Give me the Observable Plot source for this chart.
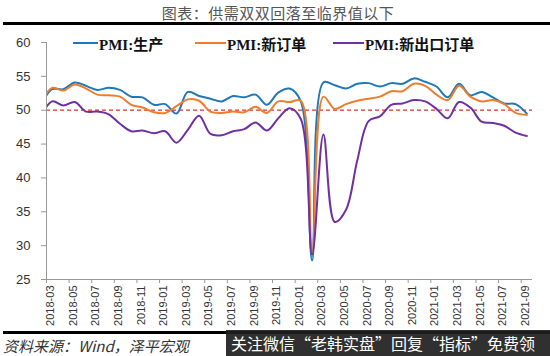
<!DOCTYPE html>
<html>
<head>
<meta charset="utf-8">
<script src="https://cdn.jsdelivr.net/npm/d3@7"></script>
<script src="https://cdn.jsdelivr.net/npm/@observablehq/plot@0.6"></script>
<style>
  body { margin:0; width:550px; height:356px; position:relative; overflow:hidden; background:#fff; }
  .abs { position:absolute; }
  #title { left:0; top:2px; width:556px; text-align:center; font:15px "Noto Sans CJK SC", sans-serif; color:#555; letter-spacing:0.5px; }
  .leg { top:34px; height:18px; display:flex; align-items:center; font:bold 15px "Liberation Serif", "Noto Sans CJK SC", serif; color:#111; white-space:nowrap; }
  .leg span.sw { display:inline-block; width:26px; height:2.5px; margin-right:1px; }
  #foot { left:3px; top:335px; font:italic 15px "Noto Sans CJK SC", sans-serif; color:#333; }
  #wm { left:226px; top:330px; width:324px; height:26px; background:rgba(30,30,30,0.92); }
  #wmt { left:231px; top:330px; color:#fff; font:16px "Noto Sans CJK SC", sans-serif; line-height:26px; white-space:nowrap; }
</style>
</head>
<body>
<div id="title" class="abs">图表：供需双双回落至临界值以下</div>
<div class="abs" style="left:3px;top:22px;width:547px;height:3px;background:#000"></div>
<div id="chart" class="abs" style="left:0;top:26px"></div>
<div id="legend"></div>
<div class="abs" style="left:3px;top:331px;width:547px;height:3px;background:#000"></div>
<div id="foot" class="abs">资料来源：Wind，泽平宏观</div>
<div id="wm" class="abs"></div>
<div id="wmt" class="abs">关注微信“老韩实盘”回复“指标”免费领</div>
<script>
const months = ["2018-02","2018-03","2018-04","2018-05","2018-06","2018-07","2018-08","2018-09","2018-10","2018-11","2018-12",
  "2019-01","2019-02","2019-03","2019-04","2019-05","2019-06","2019-07","2019-08","2019-09","2019-10","2019-11","2019-12",
  "2020-01","2020-02","2020-03","2020-04","2020-05","2020-06","2020-07","2020-08","2020-09","2020-10","2020-11","2020-12",
  "2021-01","2021-02","2021-03","2021-04","2021-05","2021-06","2021-07","2021-08","2021-09"];
const production = [50.7, 53.1, 53.1, 54.1, 53.6, 53.0, 53.3, 53.0, 52.0, 51.9, 50.8,
  50.9, 49.5, 52.7, 52.1, 51.7, 51.3, 52.1, 51.9, 52.3, 50.8, 52.6, 53.2,
  51.3, 27.8, 54.1, 53.7, 53.2, 53.9, 54.0, 53.5, 54.0, 53.9, 54.7, 54.2,
  53.5, 51.9, 53.9, 52.2, 52.7, 51.9, 51.0, 50.9, 49.5];
const newOrders = [51.0, 53.3, 52.9, 53.8, 53.2, 52.3, 52.2, 52.0, 50.8, 50.4, 49.7,
  49.6, 50.6, 51.6, 51.4, 49.8, 49.6, 49.8, 49.7, 50.5, 49.6, 51.3, 51.2,
  51.4, 29.3, 52.0, 50.2, 50.9, 51.4, 51.7, 52.0, 52.8, 52.8, 53.9, 53.6,
  52.3, 51.5, 53.6, 52.0, 51.3, 51.5, 50.9, 49.6, 49.3];
const exportOrders = [49.0, 51.3, 50.7, 51.2, 49.8, 49.8, 49.4, 48.0, 46.9, 47.0, 46.6,
  46.9, 45.2, 47.1, 49.2, 46.5, 46.3, 46.9, 47.2, 48.2, 47.0, 48.8, 50.3,
  48.7, 28.7, 46.4, 33.5, 35.3, 42.6, 48.4, 49.1, 50.8, 51.0, 51.5, 51.3,
  50.2, 48.8, 51.2, 50.4, 48.3, 48.1, 47.7, 46.7, 46.2];
const seriesNames = ["PMI:生产", "PMI:新订单", "PMI:新出口订单"];
const colors = ["#1F78B8", "#EE7D2E", "#7030A0"];
const yTicks = [25, 30, 35, 40, 45, 50, 55, 60];
const threshold = 50;

// index 0 = 2018-03 (first labelled month); 2018-02 sits just outside the frame and is clipped
const rows = months.map((m, k) => ({i: k - 1, prod: production[k], no: newOrders[k], neo: exportOrders[k]}));
const labelIdx = d3.range(0, months.length - 1, 2);
const tickPos = labelIdx.map(i => i - 0.5);

const chart = Plot.plot({
  width: 550, height: 304,
  marginTop: 16, marginBottom: 51, marginLeft: 46, marginRight: 18,
  x: {type: "linear", domain: [-0.5, months.length - 1.5]},
  y: {domain: [25, 60]},
  style: {fontFamily: "'Liberation Sans', Arial, sans-serif", background: "transparent"},
  marks: [
    Plot.ruleY([threshold], {stroke: "#E0302A", strokeWidth: 1.3, strokeDasharray: "4,3"}),
    Plot.line(rows, {x: "i", y: "prod", stroke: colors[0], strokeWidth: 2, curve: "catmull-rom", clip: true}),
    Plot.line(rows, {x: "i", y: "no", stroke: colors[1], strokeWidth: 2, curve: "catmull-rom", clip: true}),
    Plot.line(rows, {x: "i", y: "neo", stroke: colors[2], strokeWidth: 2, curve: "catmull-rom", clip: true}),
    Plot.ruleX([-0.5], {stroke: "#999", strokeWidth: 1}),
    Plot.ruleY([25], {stroke: "#999", strokeWidth: 1}),
    Plot.axisY({ticks: yTicks, tickSize: 5, tickPadding: 11, stroke: "#999", fill: "#333", fontSize: 13, label: null}),
    Plot.axisX({ticks: tickPos, tickSize: 4, tickFormat: () => "", stroke: "#999", label: null}),
    Plot.axisX({ticks: labelIdx, tickSize: 0, tickPadding: 6, tickRotate: -90, dx: -1.5,
      tickFormat: i => months[i + 1], fill: "#333", fontSize: 11, label: null})
  ]
});
document.getElementById("chart").appendChild(chart);

const legPos = [73, 195, 333];
const legend = document.getElementById("legend");
seriesNames.forEach((name, k) => {
  const d = document.createElement("div");
  d.className = "abs leg";
  d.style.left = legPos[k] + "px";
  d.innerHTML = `<span class="sw" style="background:${colors[k]};width:${k === 0 ? 25 : 31}px"></span>${name}`;
  legend.appendChild(d);
});
</script>
</body>
</html>
